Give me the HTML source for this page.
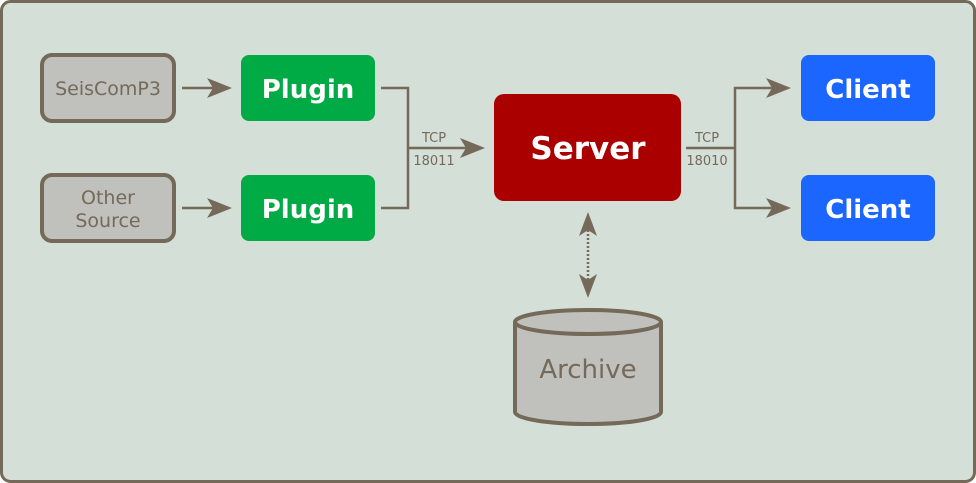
<!DOCTYPE html>
<html><head><style>body{margin:0;background:#fff}svg{display:block}text{font-family:"DejaVu Sans","Liberation Sans",sans-serif}</style></head><body>
<svg width="976" height="483" viewBox="0 0 976 483">
<rect x="1.5" y="1.5" width="973" height="480" rx="9" fill="#d4dfd8" stroke="#75695a" stroke-width="3"/>
<g fill="#c0c0bc" stroke="#75695a" stroke-width="4">
<rect x="42" y="55" width="132" height="66" rx="10"/>
<rect x="42" y="175" width="132" height="66" rx="10"/>
</g>
<g font-size="19" fill="#75695a" text-anchor="middle">
<text x="108" y="95">SeisComP3</text>
<text x="108" y="204">Other</text>
<text x="108" y="227">Source</text>
</g>
<g stroke="#75695a" stroke-width="2.5" fill="none">
<line x1="182" y1="88" x2="220" y2="88"/>
<line x1="182" y1="208" x2="220" y2="208"/>
<polyline points="381,88 408,88 408,208 381,208"/>
<line x1="408" y1="148" x2="472" y2="148"/>
<line x1="686" y1="148" x2="735" y2="148"/>
<polyline points="778,88 735,88 735,208 778,208"/>
<line x1="588" y1="230" x2="588" y2="282" stroke-dasharray="2,2"/>
</g>
<g fill="#75695a">
<path d="M232,88 L207,78 L213,88 L207,98Z"/>
<path d="M232,208 L207,198 L213,208 L207,218Z"/>
<path d="M485,148 L460,138 L466,148 L460,158Z"/>
<path d="M791,88 L766,78 L772,88 L766,98Z"/>
<path d="M791,208 L766,198 L772,208 L766,218Z"/>
<path d="M588,212 L579,236 L588,230 L597,236Z M588,298 L579,274 L588,280 L597,274Z"/>
</g>
<g fill="#00aa44"><rect x="241" y="55" width="134" height="66" rx="8"/><rect x="241" y="175" width="134" height="66" rx="8"/></g>
<g fill="#1a66ff"><rect x="801" y="55" width="134" height="66" rx="8"/><rect x="801" y="175" width="134" height="66" rx="8"/></g>
<rect x="494" y="94" width="187" height="107" rx="10" fill="#aa0000"/>
<g fill="#fff" font-weight="bold" text-anchor="middle">
<text x="308" y="98" font-size="26">Plugin</text>
<text x="308" y="218" font-size="26">Plugin</text>
<text x="868" y="98" font-size="26">Client</text>
<text x="868" y="218" font-size="26">Client</text>
<text x="588" y="159" font-size="31">Server</text>
</g>
<g font-size="13" fill="#75695a" text-anchor="middle">
<text x="434" y="142">TCP</text><text x="434" y="165">18011</text>
<text x="707" y="142">TCP</text><text x="707" y="165">18010</text>
</g>
<g fill="#c0c0bc" stroke="#75695a" stroke-width="4">
<path d="M515,322 L515,412 A73,12 0 0 0 661,412 L661,322"/>
<ellipse cx="588" cy="322" rx="73" ry="12"/>
</g>
<text x="588" y="378" font-size="26" fill="#75695a" text-anchor="middle">Archive</text>
</svg>
</body></html>
